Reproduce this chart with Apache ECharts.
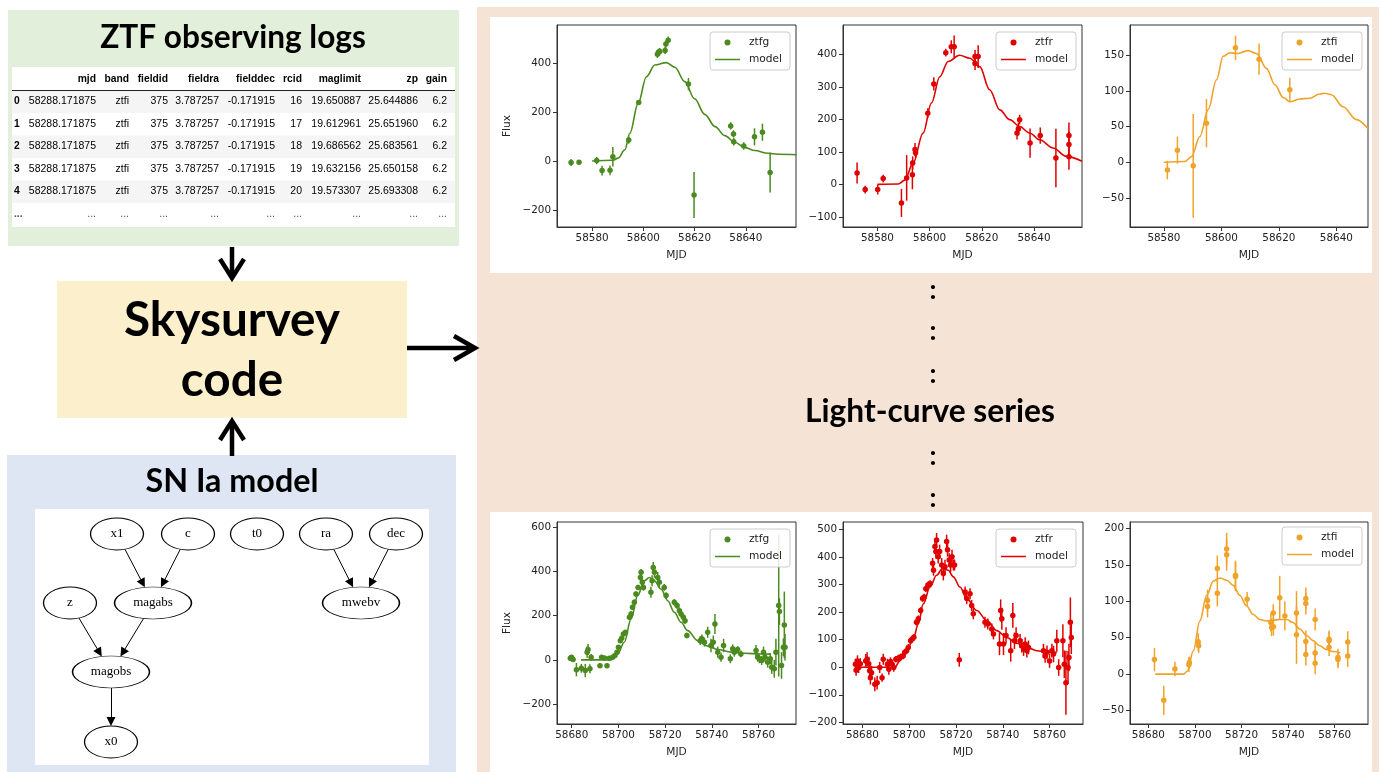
<!DOCTYPE html>
<html><head><meta charset="utf-8">
<script src="https://cdn.jsdelivr.net/npm/echarts@6/dist/echarts.min.js"></script>
<style>html,body{margin:0;padding:0;background:#fff}#c{width:1379px;height:772px}</style>
</head><body><div id="c"></div>
<script>
// ---------------- DATA ----------------
// table (ZTF observing logs)
const tableColumns = ['', 'mjd', 'band', 'fieldid', 'fieldra', 'fielddec', 'rcid', 'maglimit', 'zp', 'gain'];
const tableRows = [
  ['0', '58288.171875', 'ztfi', '375', '3.787257', '-0.171915', '16', '19.650887', '25.644886', '6.2'],
  ['1', '58288.171875', 'ztfi', '375', '3.787257', '-0.171915', '17', '19.612961', '25.651960', '6.2'],
  ['2', '58288.171875', 'ztfi', '375', '3.787257', '-0.171915', '18', '19.686562', '25.683561', '6.2'],
  ['3', '58288.171875', 'ztfi', '375', '3.787257', '-0.171915', '19', '19.632156', '25.650158', '6.2'],
  ['4', '58288.171875', 'ztfi', '375', '3.787257', '-0.171915', '20', '19.573307', '25.693308', '6.2'],
  ['...', '...', '...', '...', '...', '...', '...', '...', '...', '...']
];
// SN Ia model graph
const dagNames = ['x1', 'c', 't0', 'ra', 'dec', 'z', 'magabs', 'mwebv', 'magobs', 'x0'];
const dagX = [82, 153, 222, 291, 361, 35, 118, 326, 76, 76];
const dagY = [25, 25, 25, 25, 25, 94, 94, 94, 163, 233];
const dagEdges = [['x1', 'magabs'], ['c', 'magabs'], ['z', 'magobs'], ['magabs', 'magobs'], ['magobs', 'x0'], ['ra', 'mwebv'], ['dec', 'mwebv']];

// light curves: [mjd, flux, fluxerr]
const gTopPts = [[58571.8,-6,14],[58574.9,-5,6],[58581.8,2,15],[58583.9,-39,20],[58587.0,-38,20],[58588.1,18,40],[58594.3,86,15],[58598.2,240,8],[58605.5,437,15],[58605.9,445,15],[58606.4,448,15],[58608.5,453,15],[58608.8,479,15],[58609.7,495,15],[58617.6,315,25],[58619.8,-139,94],[58634.1,144,15],[58635.2,111,15],[58635.3,79,15],[58639.2,62,15],[58643.4,99,35],[58646.5,118,35],[58649.5,-47,82]];
const gTopModel = [[58580,0],[58588,3],[58590.2,12],[58592.8,46],[58594.7,113],[58598,237],[58601.2,345],[58604.5,393],[58609,403],[58612.3,384],[58616.2,325],[58620,255],[58624,191],[58628,141],[58631.8,104],[58635.7,77],[58639.6,56],[58643.5,43],[58648.7,32],[58652.6,28],[58659.8,26]];
const rTopPts = [[58572.2,35,32],[58575.3,-16,12],[58580.1,-16,15],[58582.2,18,12],[58589.2,-57,43],[58591.2,20,70],[58593.4,30,45],[58593.5,66,20],[58594.4,107,20],[58594.6,97,15],[58599.3,219,15],[58601.6,309,20],[58606.2,405,12],[58608.3,423,20],[58609.4,423,35],[58617.4,393,20],[58617.4,372,20],[58618.6,393,35],[58633.5,158,20],[58634.0,170,20],[58634.5,199,15],[58638.5,127,45],[58642.4,150,25],[58648.4,81,90],[58653.4,150,40],[58653.4,123,40],[58653.4,85,40]];
const rTopModel = [[58580,0],[58588,1],[58590.5,13],[58593.7,66],[58597.5,158],[58600.7,250],[58603.9,331],[58607.1,378],[58611.5,397],[58615.4,388],[58619.2,362],[58623,291],[58626.9,229],[58630.7,199],[58634.5,178],[58638.3,158],[58642.2,137],[58647.3,112],[58652.4,86],[58658.4,71]];
const iTopPts = [[58581.2,-11,13],[58584.7,17,19],[58590.2,-5,73],[58594.8,55,34],[58604.9,161,17],[58613.1,145,22],[58623.8,102,17]];
const iTopModel = [[58580,0],[58587.3,1],[58589.6,8],[58592.5,36],[58595.4,74],[58598.3,116],[58600.6,149],[58602.9,154],[58605.8,153],[58609.3,157],[58612.2,153],[58615.7,132],[58618.6,109],[58621.5,91],[58623.8,85],[58627.3,89],[58630.7,90],[58634.2,96],[58636,97],[58638.3,95],[58642.3,78],[58647,60],[58651,47]];

const gBotPts = [[58679.4,7,10],[58679.9,12,10],[58680.2,5,10],[58680.6,2,10],[58682.0,-44,30],[58684.1,-38,20],[58685.8,-48,30],[58686.6,35,25],[58687.0,47,25],[58687.8,-40,20],[58688.3,12,15],[58692.1,-26,10],[58692.8,12,10],[58694.0,9,8],[58695.1,-26,8],[58696.1,8,8],[58697.5,12,8],[58698.5,20,8],[58699.4,35,8],[58700.0,57,10],[58700.8,87,10],[58701.4,98,10],[58702.1,117,10],[58703.0,125,10],[58704.7,192,12],[58705.4,207,12],[58706.0,237,12],[58706.8,260,12],[58707.5,297,12],[58708.4,327,12],[58709.4,372,15],[58709.7,395,15],[58710.2,350,15],[58710.7,327,15],[58713.9,305,25],[58714.4,357,25],[58714.9,417,25],[58715.4,395,25],[58716.8,372,25],[58717.5,350,25],[58719.6,327,15],[58720.4,290,15],[58723.9,260,15],[58725.1,245,15],[58726.1,222,15],[58726.8,207,15],[58727.8,192,15],[58728.5,177,15],[58729.3,110,12],[58735.0,87,20],[58735.7,95,20],[58736.8,80,20],[58738.2,125,25],[58739.6,65,30],[58740.6,80,30],[58741.3,162,45],[58742.5,35,25],[58743.9,12,20],[58745.0,65,30],[58747.9,5,20],[58748.9,50,20],[58749.6,35,20],[58751.0,47,15],[58752.4,27,15],[58758.9,42,25],[58759.6,12,20],[58760.3,5,20],[58761.3,-3,20],[58762.1,35,25],[58762.7,12,20],[58763.9,-10,25],[58765.0,5,25],[58765.6,-33,30],[58766.7,-40,40],[58767.4,35,60],[58768.6,245,320],[58768.9,218,60],[58769.8,-25,60],[58770.6,57,40],[58771.0,158,150],[58771.3,57,60]];
const gBotModel = [[58684,0],[58696.8,0],[58699.7,27],[58702.5,80],[58705.4,185],[58708.2,290],[58711.1,357],[58713.2,372],[58715.4,357],[58718.2,320],[58721.1,267],[58723.9,215],[58726.8,170],[58729.6,132],[58733.9,87],[58738.2,62],[58742.5,47],[58748.2,35],[58753.9,30],[58761,27],[58765.3,26]];
const rBotPts = [[58677,11,20],[58677.3,-11,20],[58677.9,23,20],[58678.4,-1,20],[58679.1,13,20],[58681.4,23,25],[58682,29,25],[58682.7,13,25],[58683.1,-13,25],[58683.4,-38,25],[58683.9,-20,25],[58685.3,-62,25],[58686.3,-56,25],[58687.4,-1,20],[58688.4,-38,15],[58688.9,29,20],[58690.7,11,20],[58691.3,-7,20],[58692,21,15],[58692.7,11,15],[58693.4,-1,15],[58694.3,29,12],[58695.3,33,12],[58696.4,38,12],[58697.4,41,12],[58698.1,54,12],[58698.9,60,12],[58699.6,72,12],[58700.6,96,12],[58701.3,102,12],[58702,109,12],[58703.1,163,12],[58703.9,176,12],[58704.9,206,12],[58705.7,249,12],[58706.4,255,12],[58707.1,285,12],[58708,298,12],[58708.9,304,12],[58710,377,20],[58710.4,352,20],[58711,438,25],[58711.4,420,25],[58711.7,462,25],[58712.4,401,25],[58713,420,25],[58713.9,371,25],[58714.6,340,25],[58715.3,365,25],[58716,456,25],[58716.4,426,25],[58717.1,389,25],[58717.7,371,25],[58718.3,401,25],[58718.9,371,20],[58719.4,371,20],[58721.4,27,25],[58723.9,273,20],[58724.6,249,20],[58726,267,20],[58726.7,224,20],[58727.4,194,20],[58732.4,163,20],[58733.6,157,20],[58735.3,139,20],[58736,121,20],[58738.6,84,40],[58739.1,206,40],[58739.6,176,40],[58740.3,84,40],[58741.4,115,30],[58743.4,60,40],[58744.3,188,45],[58745,96,30],[58745.7,115,30],[58747.4,96,25],[58748.1,78,25],[58748.9,66,25],[58749.6,84,25],[58750.3,60,25],[58751,72,25],[58757.4,60,25],[58758.1,41,25],[58758.9,54,25],[58760,23,25],[58761,60,25],[58761.7,48,30],[58763.1,96,40],[58763.9,-1,30],[58765.7,96,60],[58766.3,11,50],[58767,-56,116],[58767.9,-1,60],[58768.3,35,50],[58768.9,163,90],[58769.3,108,60]];
const rBotModel = [[58678.6,0],[58693.9,0],[58696,23],[58698.9,60],[58701.7,102],[58703.9,157],[58706,230],[58708.9,291],[58711.7,334],[58714.3,359],[58716.7,352],[58718.9,328],[58721.7,291],[58724.6,249],[58728.9,206],[58733.1,170],[58737.4,133],[58741.7,108],[58746,87],[58750.3,72],[58754.6,60],[58758.9,54],[58763.1,54]];
const iBotPts = [[58682.6,20,16],[58686.6,-36,20],[58691.4,7,10],[58697.4,13,10],[58697.6,16,8],[58701.4,44,12],[58701.6,39,10],[58705.4,101,15],[58705.4,93,15],[58709.6,145,18],[58709.6,111,18],[58713.6,172,22],[58713.6,164,22],[58717.4,136,20],[58717.4,134,20],[58722.4,103,10],[58732.6,71,12],[58732.9,64,12],[58733.6,84,12],[58733.7,65,12],[58736.4,105,30],[58738.6,80,20],[58743.6,84,30],[58743.6,54,40],[58747.6,104,15],[58747.6,97,15],[58747.6,45,15],[58747.6,27,15],[58751.6,75,15],[58751.6,29,15],[58751.6,15,15],[58757.6,48,12],[58757.6,46,12],[58757.6,37,12],[58761.4,23,12],[58761.4,20,12],[58765.6,44,15],[58765.6,25,15]];
const iBotModel = [[58682.9,0],[58695,0],[58696.7,4],[58699.3,32],[58702.1,73],[58705,108],[58707.9,128],[58710.7,132],[58713.6,129],[58716.4,122],[58719.3,108],[58722.1,94],[58725,82],[58727.9,75],[58730.7,73],[58733.6,74],[58736.4,75],[58739.3,75],[58742.1,71],[58745,62],[58747.9,53],[58750.7,46],[58753.6,39],[58756.4,34],[58759.3,31],[58762.4,29]];

// tick labels
const xTicksTop = [58580, 58600, 58620, 58640];
const xTicksBot = [58680, 58700, 58720, 58740, 58760];
const yTicksGTop = [-200, 0, 200, 400];
const yTicksRTop = [-100, 0, 100, 200, 300, 400];
const yTicksITop = [-50, 0, 50, 100, 150];
const yTicksGBot = [-200, 0, 200, 400, 600];
const yTicksRBot = [-200, -100, 0, 100, 200, 300, 400, 500];
const yTicksIBot = [-50, 0, 50, 100, 150, 200];

// text
const titleZTF = 'ZTF observing logs';
const titleCode = ['Skysurvey', 'code'];
const titleModel = 'SN Ia model';
const titleSeries = 'Light-curve series';

// ---------------- LAYOUT / STYLE ----------------
const COL = {g: '#4a8a1e', r: '#e00000', i: '#f0a32a'};
const TICKFONT = 'DejaVu Sans';
const plots = [
  {pts: gTopPts, model: gTopModel, band: 'ztfg', color: COL.g, grid: [557, 25, 239, 202], x: [58566.3, 58659.6], y: [-270, 557], xt: xTicksTop, yt: yTicksGTop, ylab: true, lr: 589, lt: 32},
  {pts: rTopPts, model: rTopModel, band: 'ztfr', color: COL.r, grid: [843, 25, 239, 202], x: [58566.8, 58658.4], y: [-131, 490], xt: xTicksTop, yt: yTicksRTop, ylab: false, lr: 303, lt: 32},
  {pts: iTopPts, model: iTopModel, band: 'ztfi', color: COL.i, grid: [1130, 25, 238, 202], x: [58568.2, 58651], y: [-91, 193], xt: xTicksTop, yt: yTicksITop, ylab: false, lr: 17, lt: 32},
  {pts: gBotPts, model: gBotModel, band: 'ztfg', color: COL.g, grid: [557, 522, 239, 202], x: [58673.7, 58776], y: [-289, 622], xt: xTicksBot, yt: yTicksGBot, ylab: true, lr: 589, lt: 529},
  {pts: rBotPts, model: rBotModel, band: 'ztfr', color: COL.r, grid: [843, 522, 240, 202], x: [58671.7, 58774.3], y: [-206, 527], xt: xTicksBot, yt: yTicksRBot, ylab: false, lr: 303, lt: 529},
  {pts: iBotPts, model: iBotModel, band: 'ztfi', color: COL.i, grid: [1130, 522, 238, 202], x: [58672.1, 58774.3], y: [-68.5, 209], xt: xTicksBot, yt: yTicksIBot, ylab: false, lr: 17, lt: 527}
];

function fmt(v) { return v < 0 ? '\u2212' + (-v) : String(v); }
const meas = document.createElement('canvas').getContext('2d');
function fitSize(text, family, target) {
  meas.font = 'bold 100px ' + family;
  return 100 * target / meas.measureText(text).width;
}
const TITLEFONT = 'Lato';
const LINE_ICON = 'path://M0,0H100V6H0Z';

const grids = [], xAxes = [], yAxes = [], series = [], legends = [];
plots.forEach((p, i) => {
  grids.push({left: p.grid[0], top: p.grid[1], width: p.grid[2], height: p.grid[3], show: true, borderColor: '#333', borderWidth: 1, backgroundColor: 'transparent', containLabel: false});
  const tickStyle = {show: true, inside: false, length: 4, lineStyle: {color: '#333', width: 1}};
  xAxes.push({type: 'value', gridIndex: i, min: p.x[0], max: p.x[1],
    axisLine: {show: true, onZero: false, lineStyle: {color: '#333'}},
    axisTick: Object.assign({customValues: p.xt}, tickStyle),
    axisLabel: {customValues: p.xt, formatter: fmt, fontFamily: TICKFONT, fontSize: 10.4, color: '#222', margin: 6},
    splitLine: {show: false},
    name: 'MJD', nameLocation: 'middle', nameGap: 23, nameTextStyle: {fontFamily: TICKFONT, fontSize: 10.6, color: '#222'}
  });
  yAxes.push({type: 'value', gridIndex: i, min: p.y[0], max: p.y[1],
    axisLine: {show: true, onZero: false, lineStyle: {color: '#333'}},
    axisTick: Object.assign({customValues: p.yt}, tickStyle),
    axisLabel: {customValues: p.yt, formatter: fmt, fontFamily: TICKFONT, fontSize: 10.4, color: '#222', margin: 6},
    splitLine: {show: false},
    name: p.ylab ? 'Flux' : '', nameLocation: 'middle', nameGap: 44, nameRotate: 90, nameTextStyle: {fontFamily: TICKFONT, fontSize: 10.6, color: '#222'}
  });
  series.push({type: 'custom', name: 'err|' + i, xAxisIndex: i, yAxisIndex: i, silent: true, clip: true, z: 2,
    data: p.pts, encode: {x: 0, y: 1},
    renderItem: (params, api) => {
      const x = api.value(0), y = api.value(1), e = api.value(2);
      const a = api.coord([x, y - e]), b = api.coord([x, y + e]);
      return {type: 'line', shape: {x1: a[0], y1: a[1], x2: b[0], y2: b[1]}, style: {stroke: p.color, lineWidth: 1.5}};
    }
  });
  series.push({type: 'scatter', name: p.band + '|' + i, xAxisIndex: i, yAxisIndex: i, silent: true, z: 3,
    data: p.pts.map(d => [d[0], d[1]]), symbol: 'circle', symbolSize: 5.5, itemStyle: {color: p.color, opacity: 1}});
  series.push({type: 'line', name: 'model|' + i, xAxisIndex: i, yAxisIndex: i, silent: true, z: 4,
    data: p.model, symbol: 'none', showSymbol: false, smooth: 0.35, smoothMonotone: 'x',
    lineStyle: {color: p.color, width: 1.6}, itemStyle: {color: p.color}});
  legends.push({show: true, orient: 'vertical', right: p.lr, top: p.lt, selectedMode: false,
    data: [{name: p.band + '|' + i, icon: 'circle'}, {name: 'model|' + i, icon: LINE_ICON}],
    formatter: n => n.split('|')[0], itemWidth: 25, itemHeight: 6, itemGap: 6,
    padding: [5, 8, 5, 5], backgroundColor: 'rgba(255,255,255,0.85)', borderColor: '#cccccc', borderWidth: 1, borderRadius: 3,
    textStyle: {fontFamily: TICKFONT, fontSize: 10.6, color: '#222', padding: [0, 0, 0, 4]}
  });
});

// DAG grid (pixel-like data space)
const dagGrid = grids.length;
grids.push({left: 35, top: 509, width: 394, height: 256, show: false});
xAxes.push({type: 'value', gridIndex: dagGrid, min: 0, max: 394, show: false});
yAxes.push({type: 'value', gridIndex: dagGrid, min: 0, max: 256, inverse: true, show: false});
const nodeW = n => (n.length > 3 ? 77 : 53), NODE_H = 32, ARROW = 9;
function boundary(w, h, ux, uy) { const rx = w / 2, ry = h / 2; return 1 / Math.sqrt((ux / rx) ** 2 + (uy / ry) ** 2); }
const edgeData = dagEdges.map(([s, t]) => {
  const si = dagNames.indexOf(s), ti = dagNames.indexOf(t);
  const dx = dagX[ti] - dagX[si], dy = dagY[ti] - dagY[si], L = Math.hypot(dx, dy), ux = dx / L, uy = dy / L;
  const bs = boundary(nodeW(s), NODE_H, ux, uy), bt = boundary(nodeW(t), NODE_H, ux, uy);
  return {coords: [[dagX[si] + ux * bs, dagY[si] + uy * bs], [dagX[ti] - ux * (bt + ARROW / 2), dagY[ti] - uy * (bt + ARROW / 2)]]};
});
series.push({type: 'lines', coordinateSystem: 'cartesian2d', xAxisIndex: dagGrid, yAxisIndex: dagGrid, silent: true, z: 5,
  data: edgeData, symbol: ['none', 'triangle'], symbolSize: ARROW, lineStyle: {color: '#000', width: 1, opacity: 1, curveness: 0}});
series.push({type: 'scatter', xAxisIndex: dagGrid, yAxisIndex: dagGrid, silent: true, z: 6,
  symbol: 'path://M0,50A50,50,0,1,1,100,50A50,50,0,1,1,0,50Z',
  data: dagNames.map((n, k) => ({name: n, value: [dagX[k], dagY[k]], symbolSize: [nodeW(n), NODE_H]})),
  itemStyle: {color: '#fff', borderColor: '#000', borderWidth: 1, opacity: 1},
  label: {show: true, position: 'inside', formatter: p => p.name, fontFamily: 'Liberation Serif', fontSize: 13, color: '#000'}
});

// ---------------- GRAPHIC (boxes, texts, arrows, table) ----------------
const G = [];
const rect = (x, y, w, h, fill, z) => G.push({type: 'rect', z: z, silent: true, shape: {x, y, width: w, height: h}, style: {fill}});
const text = (x, y, t, font, opt) => G.push(Object.assign({type: 'text', z: 10, silent: true, x, y, style: Object.assign({text: t, font, fill: '#000', align: 'center', verticalAlign: 'middle'}, opt || {})}));
const poly = (pts, w) => G.push({type: 'polyline', z: 10, silent: true, shape: {points: pts}, style: {stroke: '#000', lineWidth: w, fill: null, lineJoin: 'miter', lineCap: 'butt'}});

// left column boxes
rect(8, 10, 451, 236, '#e2efda', -5);
rect(12, 67, 443, 160, '#ffffff', -4);
rect(57, 281, 350, 137, '#fbefcc', -5);
rect(7, 455, 449, 317, '#dee6f4', -5);
rect(35, 509, 394, 256, '#ffffff', -4);
// right panel
rect(477, 7, 902, 765, '#f5e3d6', -5);
rect(490, 17, 882, 256, '#ffffff', -4);
rect(490, 512, 882, 260, '#ffffff', -4);

text(233, 38, titleZTF, 'bold ' + fitSize(titleZTF, TITLEFONT, 266).toFixed(1) + 'px ' + TITLEFONT);
text(232, 321, titleCode[0], 'bold ' + fitSize(titleCode[0], TITLEFONT, 216).toFixed(1) + 'px ' + TITLEFONT);
text(232, 381, titleCode[1], 'bold ' + fitSize(titleCode[0], TITLEFONT, 216).toFixed(1) + 'px ' + TITLEFONT);
text(232, 482, titleModel, 'bold ' + fitSize(titleModel, TITLEFONT, 173).toFixed(1) + 'px ' + TITLEFONT);
text(930, 412, titleSeries, 'bold ' + fitSize(titleSeries, TITLEFONT, 250).toFixed(1) + 'px ' + TITLEFONT);
[290, 331, 374, 456, 498].forEach(y => text(933, y, ':', 'bold 27px ' + TITLEFONT));

// arrows
poly([[232, 247], [232, 277]], 4.5); poly([[220, 259], [232, 278], [244, 259]], 4.5);
poly([[232, 456], [232, 422]], 4.5); poly([[220, 440], [232, 421], [244, 440]], 4.5);
poly([[407, 348], [474, 348]], 4.5); poly([[454, 336], [475, 348], [454, 360]], 4.5);

// table
const colRight = [20, 96, 129, 168, 219, 275, 302, 361, 418, 447];
const rowY0 = 101.5, rowH = 22.5, headerY = 79;
tableRows.forEach((r, k) => { if (k % 2 === 0 && k < 5) rect(12, 91 + k * rowH - 0.5, 443, rowH, '#f5f5f5', -3); });
G.push({type: 'line', z: 9, silent: true, shape: {x1: 12, y1: 90.5, x2: 455, y2: 90.5}, style: {stroke: '#222', lineWidth: 1.2}});
tableColumns.forEach((c, j) => { if (c) text(colRight[j], headerY, c, 'bold 10.3px "Liberation Sans"', {align: 'right'}); });
tableRows.forEach((r, k) => {
  const y = rowY0 + k * rowH;
  r.forEach((v, j) => {
    if (j === 0) text(14, y, v, 'bold 10.3px "Liberation Sans"', {align: 'left', fill: v === '...' ? '#555' : '#000'});
    else text(colRight[j], y, v, '10.5px "Liberation Sans"', {align: 'right', fill: v === '...' ? '#555' : '#000'});
  });
});

const chart = echarts.init(document.getElementById('c'), null, {renderer: 'canvas'});
chart.setOption({
  animation: false,
  backgroundColor: '#ffffff',
  grid: grids, xAxis: xAxes, yAxis: yAxes, series: series, legend: legends,
  graphic: {elements: G}
});
</script></body></html>
